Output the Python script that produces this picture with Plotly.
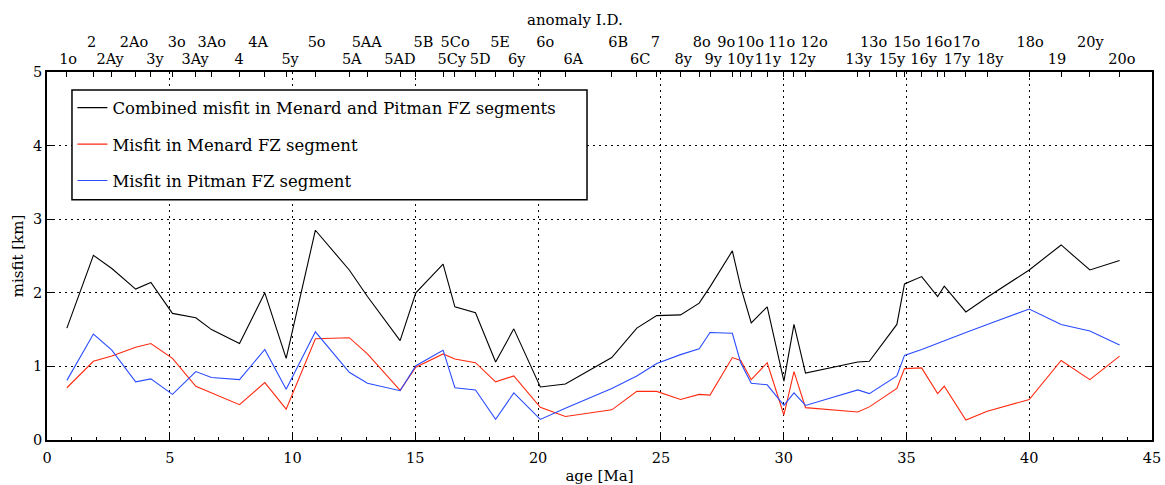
import plotly.graph_objects as go

# ---- data ----
ages = [0.81, 1.89, 2.64, 3.61, 4.23, 5.11, 6.06, 6.70, 7.84, 8.87, 9.74, 10.93,
        12.31, 13.05, 14.38, 15.02, 16.13, 16.61, 17.45, 18.27, 19.01, 20.09, 21.11,
        23.00, 24.02, 24.83, 25.80, 26.56, 27.00, 27.91, 28.25, 28.68, 29.33, 30.01,
        30.42, 30.89, 33.02, 33.49, 34.61, 34.92, 35.62, 36.27, 36.54, 37.42, 38.29,
        40.00, 41.30, 42.47, 43.68]
combined = [1.52, 2.51, 2.33, 2.05, 2.14, 1.72, 1.66, 1.50, 1.31, 2.00, 1.11, 2.85,
            2.31, 1.95, 1.35, 2.00, 2.39, 1.81, 1.73, 1.06, 1.51, 0.72, 0.76,
            1.12, 1.52, 1.69, 1.70, 1.86, 2.08, 2.57, 2.08, 1.59, 1.81, 0.80,
            1.57, 0.91, 1.06, 1.07, 1.57, 2.12, 2.22, 1.95, 2.09, 1.74, 1.94,
            2.31, 2.65, 2.31, 2.44]
menard = [0.71, 1.07, 1.14, 1.26, 1.31, 1.11, 0.73, 0.64, 0.48, 0.78, 0.42, 1.375,
          1.39, 1.17, 0.675, 0.99, 1.17, 1.10, 1.05, 0.79, 0.87, 0.445, 0.32,
          0.41, 0.66, 0.66, 0.55, 0.62, 0.61, 1.12, 1.08, 0.82, 1.05, 0.34,
          0.93, 0.44, 0.38, 0.45, 0.70, 0.97, 0.98, 0.63, 0.73, 0.27, 0.39,
          0.55, 1.08, 0.82, 1.14]
pitman = [0.81, 1.44, 1.22, 0.79, 0.83, 0.62, 0.93, 0.85, 0.82, 1.23, 0.69, 1.47,
          0.92, 0.77, 0.67, 1.01, 1.22, 0.71, 0.68, 0.28, 0.64, 0.28, 0.43,
          0.70, 0.87, 1.04, 1.16, 1.24, 1.46, 1.45, 1.05, 0.77, 0.75, 0.47,
          0.64, 0.47, 0.68, 0.63, 0.87, 1.15, 1.23, 1.31, 1.35, 1.46, 1.57,
          1.78, 1.57, 1.48, 1.29]

upper_labels = ["2", "2Ao", "3o", "3Ao", "4A", "5o", "5AA", "5B", "5Co", "5E", "6o",
                "6B", "7", "8o", "9o", "10o", "11o", "12o", "13o", "15o", "16o",
                "17o", "18o", "20y"]
upper_pos = [1.82, 3.54, 5.28, 6.71, 8.60, 10.98, 13.02, 15.33, 16.62, 18.45, 20.29,
             23.26, 24.77, 26.66, 27.66, 28.64, 29.92, 31.24, 33.66, 35.02, 36.31,
             37.44, 40.04, 42.49]
lower_labels = ["1o", "2Ay", "3y", "3Ay", "4", "5y", "5A", "5AD", "5Cy", "5D", "6y",
                "6A", "6C", "8y", "9y", "10y", "11y", "12y", "13y", "15y", "16y",
                "17y", "18y", "19", "20o"]
lower_pos = [0.86, 2.57, 4.40, 6.03, 7.82, 9.90, 12.41, 14.37, 16.48, 17.64, 19.13,
             21.43, 24.16, 25.91, 27.13, 28.24, 29.36, 30.76, 33.05, 34.41, 35.70,
             37.06, 38.41, 41.13, 43.77]

FONT = "DejaVu Serif"
RED = "#ff2a10"
BLUE = "#2a4cff"

fig = go.Figure()
fig.add_trace(go.Scatter(x=ages, y=combined, mode="lines", line=dict(color="black", width=1.1),
                         name="Combined misfit in Menard and Pitman FZ segments", legendgroup="a"))
fig.add_trace(go.Scatter(x=ages, y=menard, mode="lines", line=dict(color=RED, width=1.1),
                         name="Misfit in Menard FZ segment", legendgroup="b"))
fig.add_trace(go.Scatter(x=ages, y=pitman, mode="lines", line=dict(color=BLUE, width=1.1),
                         name="Misfit in Pitman FZ segment", legendgroup="c"))
for ax in ["x2", "x3", "x4"]:
    fig.add_trace(go.Scatter(x=[ages[0]], y=[None], xaxis=ax, yaxis="y", mode="markers",
                             showlegend=False, hoverinfo="skip", marker=dict(opacity=0)))

common_x = dict(range=[0, 45], showgrid=False, zeroline=False, tickangle=0, automargin=False)

fig.update_layout(
    width=1165, height=485,
    margin=dict(l=47, r=13, t=72, b=45, autoexpand=False),
    paper_bgcolor="white", plot_bgcolor="white",
    font=dict(family=FONT, size=14, color="black"),
    showlegend=True,
    legend=dict(x=0.023, y=0.95, xanchor="left", yanchor="top",
                borderwidth=0, bgcolor="rgba(0,0,0,0)",
                font=dict(family=FONT, size=16.5), tracegroupgap=12, itemwidth=30),
    shapes=[dict(type="rect", xref="paper", yref="paper", x0=0.0226, x1=0.4887,
                 y0=0.653, y1=0.951, fillcolor="white", layer="above",
                 line=dict(color="black", width=1.5))],
    xaxis=dict(range=[0, 45], tickvals=[0, 5, 10, 15, 20, 25, 30, 35, 40, 45],
               ticks="inside", ticklen=6, tickcolor="black", tickangle=0,
               ticklabelstandoff=4, tickfont=dict(family=FONT, size=14.5), automargin=False,
               minor=dict(dtick=1, ticks="inside", ticklen=3, tickcolor="black", showgrid=False),
               showline=True, linecolor="black", linewidth=1.5, mirror=True,
               showgrid=True, gridcolor="black", gridwidth=1, griddash="2px,4px",
               zeroline=False,
               title=dict(text="age [Ma]", font=dict(family=FONT, size=15), standoff=8)),
    yaxis=dict(range=[0, 5], tickvals=[0, 1, 2, 3, 4, 5], ticks="inside", ticklen=6,
               tickcolor="black", showline=True, linecolor="black", linewidth=1.5,
               tickfont=dict(family=FONT, size=14.5), automargin=False,
               mirror="ticks", showgrid=True, gridcolor="black", gridwidth=1,
               griddash="2px,4px", zeroline=False,
               title=dict(text="misfit [km]", font=dict(family=FONT, size=15), standoff=6)),
    xaxis2=dict(common_x, overlaying="x", side="top", anchor="y", tickvals=ages,
                ticks="inside", ticklen=5, tickcolor="black", showticklabels=False,
                showline=False),
    xaxis3=dict(common_x, overlaying="x", side="top", anchor="y", tickvals=lower_pos,
                ticktext=lower_labels, ticks="", showline=False, ticklabelstandoff=4,
                tickfont=dict(family=FONT, size=14.5)),
    xaxis4=dict(common_x, overlaying="x", side="top", anchor="y", tickvals=upper_pos,
                ticktext=upper_labels, ticks="", showline=False, ticklabelstandoff=21,
                tickfont=dict(family=FONT, size=14.5)),
    annotations=[dict(text="anomaly I.D.", xref="paper", yref="paper", x=0.478, y=1.0,
                      yshift=52, xanchor="center", yanchor="middle", showarrow=False,
                      font=dict(family=FONT, size=15))],
)

fig.write_html("out.html")
